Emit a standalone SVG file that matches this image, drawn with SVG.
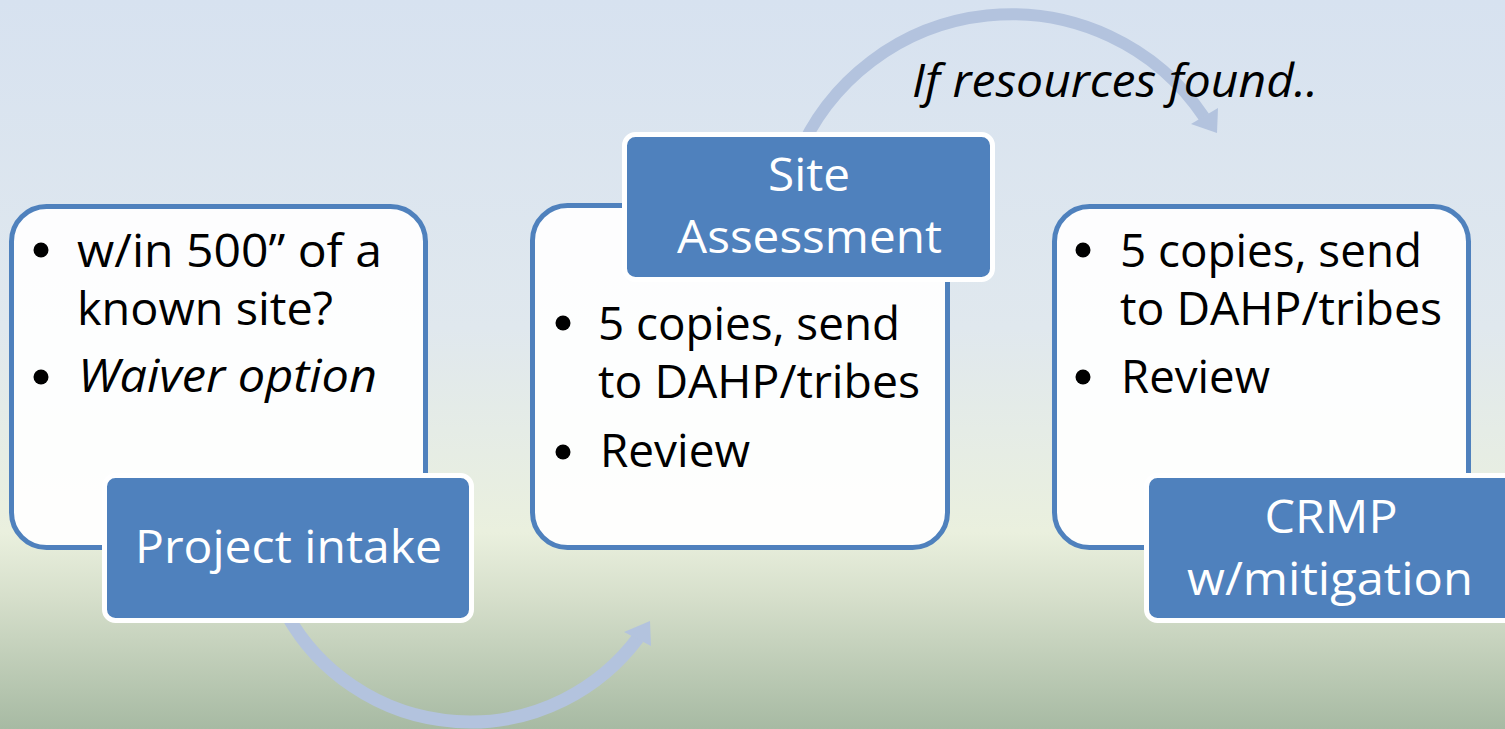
<svg xmlns="http://www.w3.org/2000/svg" width="1505" height="729" viewBox="0 0 1505 729">
  <defs>
    <linearGradient id="bg" x1="0" y1="0" x2="0" y2="1">
      <stop offset="0" stop-color="#D7E2F0"/>
      <stop offset="0.45" stop-color="#E0E8EE"/>
      <stop offset="0.73" stop-color="#EAF0DE"/>
      <stop offset="0.82" stop-color="#D6DFCB"/>
      <stop offset="1" stop-color="#A7BAA3"/>
    </linearGradient>
    <style>
      .box { fill: #FFFFFF; fill-opacity: 0.92; stroke: #4F81BD; stroke-width: 5; }
      .lab { fill: #4F81BD; stroke: #FFFFFF; stroke-width: 5; }
      .t { font-family: "Open Sans", "Liberation Sans", sans-serif; font-size: 45.5px; fill: #000000; }
      .w { font-family: "Open Sans", "Liberation Sans", sans-serif; font-size: 45.5px; fill: #FFFFFF; text-anchor: middle; }
      .i { font-style: italic; }
      .bul { fill: #000000; }
      .arc { fill: none; stroke: #B3C3DE; }
      .head { fill: #B3C3DE; }
    </style>
  </defs>

  <rect x="0" y="0" width="1505" height="729" fill="url(#bg)"/>

  <g id="connectors">
    <path class="arc" stroke-width="12" d="M 796 160 A 232 232 0 0 1 1204 117"/>
    <polygon class="head" points="1217,133 1191,124 1218,108"/>
    <text class="t i" x="912" y="97" textLength="406" lengthAdjust="spacingAndGlyphs">If resources found..</text>
    <path class="arc" stroke-width="13" d="M 287 615 A 210 210 0 0 0 638 638"/>
    <polygon class="head" points="650,621 624,632 651,646"/>
  </g>

  <g id="node-intake">
    <rect class="box" x="11.5" y="206.5" width="414" height="341" rx="35"/>
    <circle class="bul" cx="41" cy="250" r="7.5"/>
    <text class="t" x="77" y="267" textLength="305" lengthAdjust="spacingAndGlyphs">w/in 500” of a</text>
    <text class="t" x="77" y="325" textLength="256" lengthAdjust="spacingAndGlyphs">known site?</text>
    <circle class="bul" cx="41" cy="377" r="7.5"/>
    <text class="t i" x="78" y="392" textLength="299" lengthAdjust="spacingAndGlyphs">Waiver option</text>
    <rect class="lab" x="104.5" y="475.5" width="367" height="145" rx="11"/>
    <text class="w" x="288.5" y="563" textLength="307" lengthAdjust="spacingAndGlyphs">Project intake</text>
  </g>

  <g id="node-site">
    <rect class="box" x="532.5" y="205.5" width="415" height="342" rx="35"/>
    <circle class="bul" cx="563" cy="323" r="7.5"/>
    <text class="t" x="598" y="340" textLength="302" lengthAdjust="spacingAndGlyphs">5 copies, send</text>
    <text class="t" x="598" y="398" textLength="322" lengthAdjust="spacingAndGlyphs">to DAHP/tribes</text>
    <circle class="bul" cx="563" cy="452" r="7.5"/>
    <text class="t" x="600" y="467" textLength="150" lengthAdjust="spacingAndGlyphs">Review</text>
    <rect class="lab" x="624.5" y="134.5" width="368" height="145" rx="11"/>
    <text class="w" x="809" y="191" textLength="82" lengthAdjust="spacingAndGlyphs">Site</text>
    <text class="w" x="809.5" y="253" textLength="265" lengthAdjust="spacingAndGlyphs">Assessment</text>
  </g>

  <g id="node-crmp">
    <rect class="box" x="1054.5" y="206.5" width="414" height="341" rx="35"/>
    <circle class="bul" cx="1083" cy="250" r="7.5"/>
    <text class="t" x="1120" y="267" textLength="302" lengthAdjust="spacingAndGlyphs">5 copies, send</text>
    <text class="t" x="1120" y="325" textLength="322" lengthAdjust="spacingAndGlyphs">to DAHP/tribes</text>
    <circle class="bul" cx="1083" cy="377" r="7.5"/>
    <text class="t" x="1121" y="393" textLength="149" lengthAdjust="spacingAndGlyphs">Review</text>
    <rect class="lab" x="1146.5" y="475.5" width="368" height="145" rx="11"/>
    <text class="w" x="1331" y="533" textLength="133" lengthAdjust="spacingAndGlyphs">CRMP</text>
    <text class="w" x="1330" y="595" textLength="286" lengthAdjust="spacingAndGlyphs">w/mitigation</text>
  </g>
</svg>
